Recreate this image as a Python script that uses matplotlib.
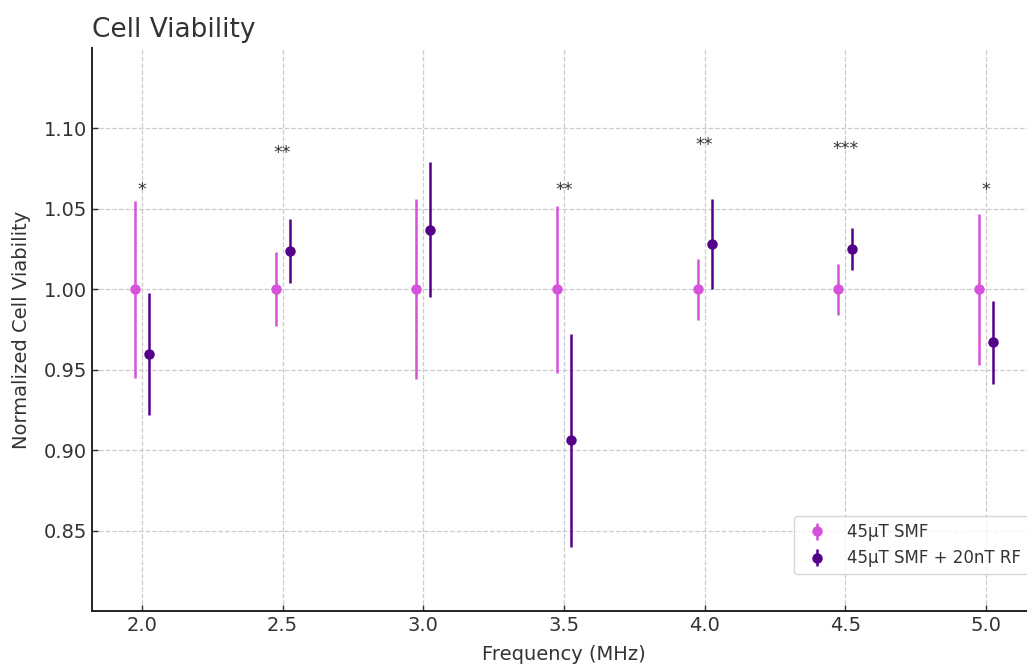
import matplotlib.pyplot as plt
import numpy as np

# frequencies (MHz) and normalized viability
freqs = [2.0, 2.5, 3.0, 3.5, 4.0, 4.5, 5.0]
smf_mean = [1.0, 1.0, 1.0, 1.0, 1.0, 1.0, 1.0]
smf_err = [0.055, 0.023, 0.056, 0.052, 0.019, 0.016, 0.047]
rf_mean = [0.960, 1.024, 1.037, 0.906, 1.028, 1.025, 0.967]
rf_err = [0.038, 0.020, 0.042, 0.066, 0.028, 0.013, 0.026]

# significance marks
stars = ["*", "**", "", "**", "**", "***", "*"]
star_y = [1.062, 1.085, 1.062, 1.062, 1.090, 1.087, 1.062]

pink = "#D653D9"
purple = "#55008A"
text_col = "#333333"

W, H = 1027, 664
fig = plt.figure(figsize=(W / 100, H / 100), dpi=100)
# axes runs a little past the right edge, like the cropped original
ax = fig.add_axes([92 / W, (H - 611) / H, (1036 - 92) / W, (611 - 48) / H])

offset = 0.025
x = np.array(freqs)
ax.errorbar(x - offset, smf_mean, yerr=smf_err, fmt='o', color=pink,
            markersize=6.5, elinewidth=1.8, capsize=0, label="45μT SMF")
ax.errorbar(x + offset, rf_mean, yerr=rf_err, fmt='o', color=purple,
            markersize=6.5, elinewidth=1.8, capsize=0, label="45μT SMF + 20nT RF")

for f, s, y in zip(freqs, stars, star_y):
    if s:
        ax.text(f, y, s, ha='center', va='center', fontsize=12.5, color=text_col)

ax.set_ylim(0.80, 1.15)
ax.set_xticks(freqs)
ax.set_yticks([0.85, 0.90, 0.95, 1.00, 1.05, 1.10])
ax.yaxis.set_major_formatter(plt.FormatStrFormatter('%.2f'))
ax.set_xticklabels([f"{f:.1f}" for f in freqs])

ax.set_title("Cell Viability", loc='left', fontsize=19, color=text_col, pad=8)
ax.set_xlabel("Frequency (MHz)", fontsize=14, color=text_col, labelpad=7.5)
ax.set_ylabel("Normalized Cell Viability", fontsize=14, color=text_col, labelpad=9)
ax.tick_params(axis='both', direction='in', length=4, width=1, labelsize=14,
               colors=text_col, labelcolor=text_col)
ax.grid(True, linestyle='--', color='#cccccc', linewidth=0.9)
ax.set_axisbelow(True)

for side in ['top', 'right']:
    ax.spines[side].set_visible(False)
for side in ['left', 'bottom']:
    ax.spines[side].set_color('#222222')
    ax.spines[side].set_linewidth(1.4)

ax.legend(loc='lower right', bbox_to_anchor=(0.9915, 0.0657), borderaxespad=0,
          fontsize=12, frameon=True, edgecolor='#cccccc', labelcolor=text_col)

fig.savefig("out.png", dpi=100)
